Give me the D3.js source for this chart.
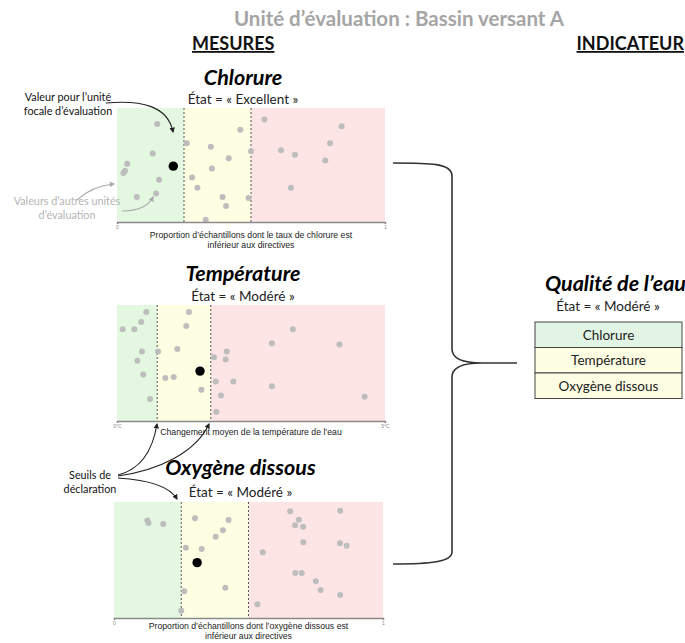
<!DOCTYPE html>
<html><head><meta charset="utf-8">
<script src="https://cdn.jsdelivr.net/npm/d3@7"></script>
<style>
body{margin:0;background:#fff;}
svg{display:block;}
</style></head>
<body>
<script>
// ---------- DATA ----------
const panelNames = ["Chlorure", "Température", "Oxygène dissous"];
const panelStates = ["État = « Excellent »", "État = « Modéré  »", "État = « Modéré  »"];
const axisLabels = [
  ["Proportion d’échantillons dont le taux de chlorure est", "inférieur aux directives"],
  ["Changement moyen de la température de l’eau"],
  ["Proportion d’échantillons dont l’oxygène dissous est", "inférieur aux directives"]
];
const tickLabels = [["0", "1"], ["0°C", "5°C"], ["0", "1"]];
const domains = [[0, 1], [0, 5], [0, 1]];
const thresholds = [[0.25, 0.5], [0.75, 1.75], [0.25, 0.5]];

const chlorureX = [0.15,0.133,0.038,0.024,0.03,0.157,0.074,0.146,0.26,0.35,0.46,0.417,0.354,0.28,0.30,0.394,0.407,0.331,0.491,0.50,0.55,0.612,0.664,0.649,0.777,0.795,0.838];
const chlorureY = [0.86,0.60,0.51,0.43,0.45,0.37,0.22,0.25,0.69,0.66,0.81,0.56,0.47,0.39,0.30,0.22,0.14,0.02,0.21,0.62,0.90,0.63,0.59,0.30,0.54,0.69,0.84];
const chlorureFocal = [0.21, 0.49];

const temperatureX = [0.106,0.323,0.453,0.547,0.466,0.379,0.491,0.616,0.765,1.125,0.901,1.058,1.343,1.293,1.573,1.81,2.028,2.047,1.841,2.17,1.94,1.853,2.89,3.28,2.89,4.15,4.62];
const temperatureY = [0.79,0.79,0.853,0.94,0.60,0.52,0.40,0.19,0.60,0.62,0.37,0.38,0.94,0.82,0.27,0.55,0.53,0.60,0.34,0.34,0.22,0.08,0.67,0.79,0.30,0.66,0.21];
const temperatureFocal = [1.549, 0.43];

const oxygeneX = [0.124,0.128,0.183,0.301,0.426,0.405,0.378,0.267,0.326,0.261,0.414,0.25,0.553,0.533,0.655,0.687,0.673,0.703,0.704,0.841,0.84,0.865,0.674,0.698,0.75,0.768,0.841];
const oxygeneY = [0.84,0.82,0.81,0.86,0.845,0.756,0.70,0.606,0.595,0.23,0.26,0.063,0.566,0.118,0.92,0.847,0.80,0.787,0.653,0.925,0.644,0.623,0.388,0.388,0.316,0.241,0.198];
const oxygeneFocal = [0.309, 0.477];

const indicatorRows = ["Chlorure", "Température", "Oxygène dissous"];
const indicatorStates = ["excellent", "modere", "modere"];

// ---------- LAYOUT / STYLE ----------
const W = 685, H = 643;
const zoneColors = ["#e3f7e1", "#fefee3", "#fde4e5"];
const stateFill = {excellent: "#e2f5e4", modere: "#fdfde3"};
const calibri = "Lato, 'Open Sans', sans-serif";
const arial = "'Liberation Sans', Arial, sans-serif";

const panelBoxes = [
  {x0: 117, x1: 385, y0: 108, y1: 222, titleY: 85, stateY: 104, labelY: 238},
  {x0: 117, x1: 385, y0: 305, y1: 421, titleY: 281, stateY: 301, labelY: 435},
  {x0: 114, x1: 383, y0: 502, y1: 618, titleY: 475, stateY: 497, labelY: 629}
];
const series = [
  {xs: chlorureX, ys: chlorureY, focal: chlorureFocal},
  {xs: temperatureX, ys: temperatureY, focal: temperatureFocal},
  {xs: oxygeneX, ys: oxygeneY, focal: oxygeneFocal}
];

const svg = d3.select("body").append("svg").attr("width", W).attr("height", H);

const defs = svg.append("defs");
function marker(id, color) {
  defs.append("marker").attr("id", id).attr("viewBox", "0 0 10 10")
    .attr("refX", 8).attr("refY", 5).attr("markerWidth", 5).attr("markerHeight", 5)
    .attr("orient", "auto-start-reverse")
    .append("path").attr("d", "M0,0 L10,5 L0,10 z").attr("fill", color);
}
marker("arrDark", "#222");
marker("arrGray", "#aaa");

// Header
svg.append("text").attr("x", 399).attr("y", 26).attr("text-anchor", "middle")
  .attr("font-family", calibri).attr("font-weight", "bold").attr("font-size", 20.5)
  .attr("fill", "#a5a5a5").text("Unité d’évaluation : Bassin versant A");
svg.append("text").attr("x", 192).attr("y", 50).attr("font-family", calibri)
  .attr("font-weight", "bold").attr("font-size", 18).attr("fill", "#111")
  .attr("text-decoration", "underline").text("MESURES");
svg.append("text").attr("x", 684).attr("y", 50).attr("text-anchor", "end").attr("font-family", calibri)
  .attr("font-weight", "bold").attr("font-size", 18).attr("fill", "#111")
  .attr("text-decoration", "underline").text("INDICATEUR");

// Panels
panelBoxes.forEach((b, i) => {
  const g = svg.append("g");
  const x = d3.scaleLinear().domain(domains[i]).range([b.x0, b.x1]);
  const y = d3.scaleLinear().domain([0, 1]).range([b.y1, b.y0]);
  const edges = [domains[i][0], ...thresholds[i], domains[i][1]];
  g.selectAll("rect.zone").data(d3.range(3)).join("rect").attr("class", "zone")
    .attr("x", k => x(edges[k])).attr("width", k => x(edges[k + 1]) - x(edges[k]))
    .attr("y", b.y0).attr("height", b.y1 - b.y0).attr("fill", k => zoneColors[k]);
  g.selectAll("line.thr").data(thresholds[i]).join("line").attr("class", "thr")
    .attr("x1", d => x(d)).attr("x2", d => x(d)).attr("y1", b.y0).attr("y2", b.y1)
    .attr("stroke", "#555").attr("stroke-width", 1).attr("stroke-dasharray", "2,2");
  const pts = series[i].xs.map((v, k) => [v, series[i].ys[k]]);
  g.selectAll("circle.dot").data(pts).join("circle").attr("class", "dot")
    .attr("cx", d => x(d[0])).attr("cy", d => y(d[1])).attr("r", 3)
    .attr("fill", "#bdbdbd");
  g.append("circle").attr("cx", x(series[i].focal[0])).attr("cy", y(series[i].focal[1]))
    .attr("r", 4.7).attr("fill", "#000");
  const axis = d3.axisBottom(x).tickValues(domains[i])
    .tickFormat((d, k) => tickLabels[i][k]).tickSizeInner(2).tickSizeOuter(2).tickPadding(1);
  const ag = g.append("g").attr("transform", `translate(0,${b.y1})`).call(axis);
  ag.select(".domain").attr("stroke", "#8a8a8a").attr("stroke-width", 1.5);
  ag.selectAll(".tick line").attr("stroke", "#8a8a8a");
  ag.selectAll(".tick text").attr("font-size", 5).attr("fill", "#888").attr("font-family", arial);
  const cx = (b.x0 + b.x1) / 2 - 8;
  g.append("text").attr("x", cx).attr("y", b.titleY).attr("text-anchor", "middle")
    .attr("font-family", calibri).attr("font-weight", "bold").attr("font-style", "italic")
    .attr("font-size", 21.5).attr("fill", "#000").text(panelNames[i]);
  g.append("text").attr("x", cx).attr("y", b.stateY).attr("text-anchor", "middle")
    .attr("font-family", calibri).attr("font-size", 13.5).attr("fill", "#222").text(panelStates[i]);
  axisLabels[i].forEach((t, k) => {
    g.append("text").attr("x", (b.x0 + b.x1) / 2).attr("y", b.labelY + k * 9.5)
      .attr("text-anchor", "middle").attr("font-family", arial).attr("font-size", 8.7)
      .attr("fill", "#222").text(t);
  });
});

// Annotations
function label(lines, xc, y0, color, size) {
  lines.forEach((t, k) => svg.append("text").attr("x", xc).attr("y", y0 + k * 14)
    .attr("text-anchor", "middle").attr("font-family", calibri).attr("font-size", size)
    .attr("fill", color).text(t));
}
label(["Valeur pour l’unité", "focale d’évaluation"], 68, 101, "#111", 10.8);
label(["Valeurs d’autres unités", "d’évaluation"], 67, 205, "#b5b5b5", 10.8);
label(["Seuils de", "déclaration"], 90, 479, "#111", 10.8);

function arrow(d, color, mk) {
  svg.append("path").attr("d", d).attr("fill", "none").attr("stroke", color)
    .attr("stroke-width", 1.1).attr("marker-end", `url(#${mk})`);
}
arrow("M106,103 C142,100 168,106 173,132", "#222", "arrDark");
arrow("M77,200 Q92,186 114,184", "#aaa", "arrGray");
arrow("M122,211 Q146,211 153,197", "#aaa", "arrGray");
arrow("M118,475 C138,470 152,455 157,424", "#222", "arrDark");
arrow("M118,476 C160,470 196,452 209,424", "#222", "arrDark");
arrow("M118,478 C150,480 170,487 177,499", "#222", "arrDark");

// Brace
const brace = "M393,163 C430,163 452,163 452,176 L452,349 C452,359 462,363 482,363 L517,363 " +
  "M482,363 C462,363 452,367 452,377 L452,552 C452,562 430,564 393,564";
svg.append("path").attr("d", brace).attr("fill", "none").attr("stroke", "#333").attr("stroke-width", 1.6);

// Indicator
svg.append("text").attr("x", 686).attr("y", 291).attr("text-anchor", "end")
  .attr("font-family", calibri).attr("font-weight", "bold").attr("font-style", "italic")
  .attr("font-size", 21.5).attr("fill", "#000").text("Qualité de l’eau");
svg.append("text").attr("x", 608).attr("y", 311).attr("text-anchor", "middle")
  .attr("font-family", calibri).attr("font-size", 13.5).attr("fill", "#222").text("État = « Modéré  »");
const rowY = d3.scaleBand().domain(indicatorRows).range([322, 398.5]);
const tg = svg.append("g");
tg.selectAll("rect").data(indicatorRows).join("rect")
  .attr("x", 535).attr("width", 147).attr("y", d => rowY(d)).attr("height", rowY.bandwidth())
  .attr("fill", (d, k) => stateFill[indicatorStates[k]]).attr("stroke", "#444").attr("stroke-width", 1);
tg.selectAll("text").data(indicatorRows).join("text")
  .attr("x", 608.5).attr("y", d => rowY(d) + rowY.bandwidth() / 2 + 4.8).attr("text-anchor", "middle")
  .attr("font-family", calibri).attr("font-size", 13.5).attr("fill", "#222").text(d => d);
</script>
</body></html>
